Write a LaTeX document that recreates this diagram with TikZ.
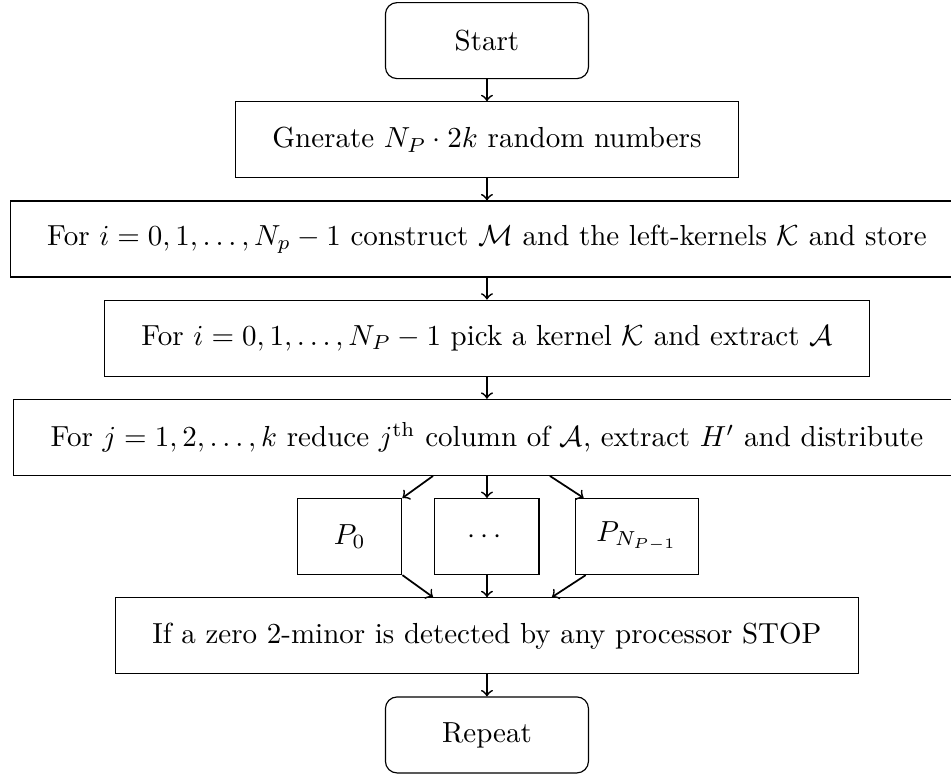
\documentclass[tikz,border=0pt]{standalone}
\usepackage{amsmath}
\usepackage{amssymb}
\usetikzlibrary{matrix}

\begin{document}
\begin{tikzpicture}[
    stepbox/.style={draw, minimum height=26.2pt, inner xsep=12.8pt},
    endbox/.style={stepbox, rounded corners, minimum width=70pt},
    procbox/.style={draw, minimum height=26.2pt, minimum width=35.9pt, inner xsep=7.3pt},
    flow/.style={->, semithick}
]

    \matrix[matrix of nodes, row sep=7.6pt, nodes={stepbox}] (mat)
    {
        |[endbox]| Start \\
        Gnerate $N_P \cdot 2k$ random numbers \\
        For $i = 0, 1, \ldots, N_p - 1$ construct $\mathcal{M}$ and the left-kernels $\mathcal{K}$ and store \\
        For $i = 0, 1, \ldots, N_P - 1$ pick a kernel $\mathcal{K}$ and extract $\mathcal{A}$ \\
        For $j = 1, 2, \ldots, k$ reduce $j^{\text{th}}$ column of $\mathcal{A}$, extract $H'$ and distribute \\
        |[procbox]| $\cdots$ \\
        If a zero 2-minor is detected by any processor STOP \\
        |[endbox]| Repeat \\
    };

    \node[procbox, anchor=east] (p0) at ([xshift=-11pt]mat-6-1.west) {$P_0$};
    \node[procbox, anchor=west] (pn) at ([xshift=12.1pt]mat-6-1.east) {$P_{N_{P-1}}$};

    \draw[flow] (mat-1-1) -- (mat-2-1);
    \draw[flow] (mat-2-1) -- (mat-3-1);
    \draw[flow] (mat-3-1) -- (mat-4-1);
    \draw[flow] (mat-4-1) -- (mat-5-1);
    \draw[flow] (mat-5-1) -- (mat-6-1);
    \draw[flow] ([xshift=-18.6pt]mat-5-1.south) -- (p0.north east);
    \draw[flow] ([xshift=21.7pt]mat-5-1.south) -- ([xshift=3.1pt]pn.north west);
    \draw[flow] (mat-6-1) -- (mat-7-1);
    \draw[flow] (p0.south east) -- ([xshift=-18.6pt]mat-7-1.north);
    \draw[flow] ([xshift=3.8pt]pn.south west) -- ([xshift=22.4pt]mat-7-1.north);
    \draw[flow] (mat-7-1) -- (mat-8-1);

    \pgfresetboundingbox
    \useasboundingbox ([shift={(-167.9pt,0.7pt)}]mat-1-1.north) rectangle ([shift={(160pt,-1.3pt)}]mat-8-1.south);
\end{tikzpicture}
\end{document}
